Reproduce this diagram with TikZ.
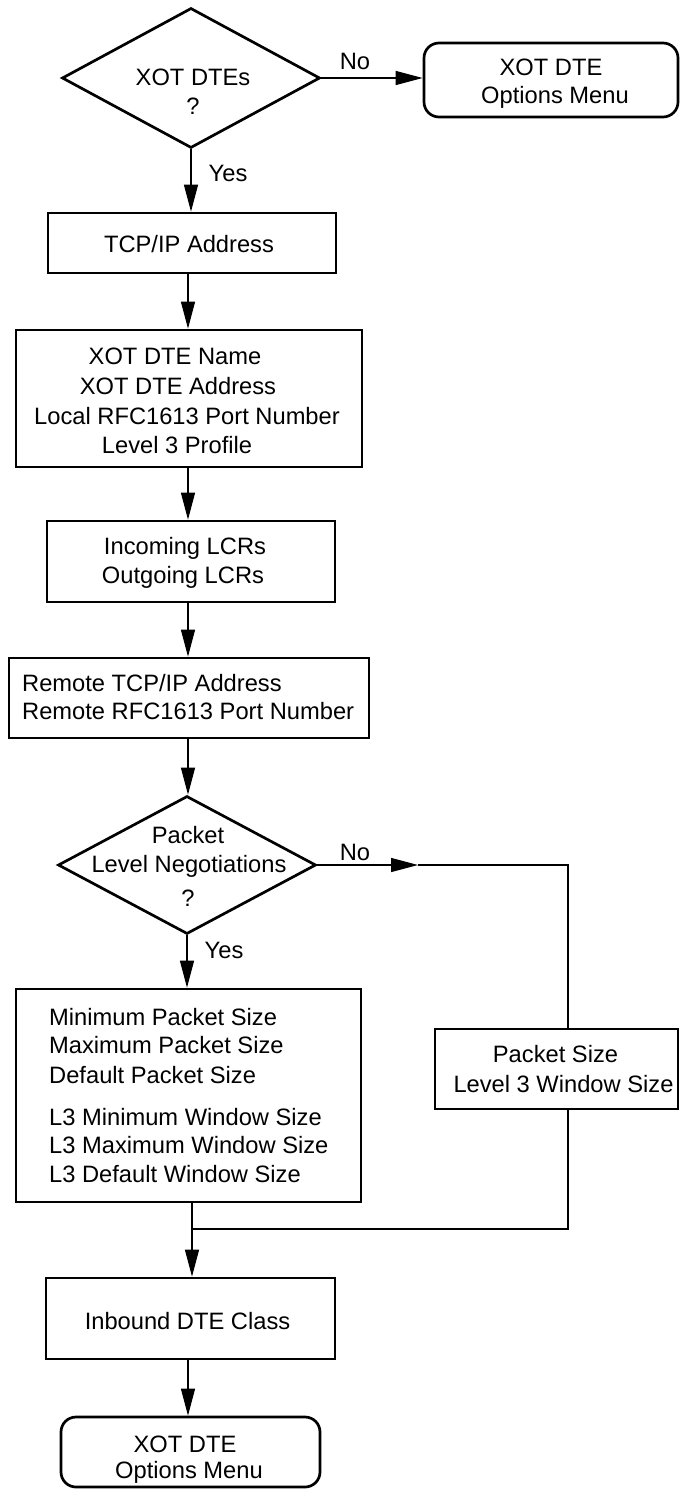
\documentclass[tikz,border=0pt]{standalone}
\usepackage{fontspec}
\setmainfont{Liberation Sans}
\usetikzlibrary{arrows.meta,shapes.geometric}
\begin{document}
\begin{tikzpicture}[x=1pt,y=-1pt,
  every node/.style={font=\fontsize{23.7}{29}\selectfont},
  box/.style={draw, line width=2.7pt, inner sep=0pt},
  rbox/.style={box, rounded corners=15pt},
  dia/.style={draw, diamond, line width=2.7pt, inner sep=0pt},
  txt/.style={anchor=base, inner sep=0pt},
  ltxt/.style={anchor=base west, inner sep=0pt},
  line/.style={line width=1.3pt},
  arr/.style={line, -{Triangle[length=27pt,width=14pt]}}
]
\useasboundingbox (0,0) rectangle (681,1490);

% shapes
\node[dia, minimum width=258pt, minimum height=140pt] (d1) at (191,78) {};
\node[rbox, minimum width=254pt, minimum height=74pt] (r1) at (551,80) {};
\node[box, minimum width=288pt, minimum height=60pt] (tcp) at (192,243) {};
\node[box, minimum width=346pt, minimum height=137pt] (name) at (189,398.5) {};
\node[box, minimum width=288pt, minimum height=81pt] (inc) at (191,561.5) {};
\node[box, minimum width=360pt, minimum height=80pt] (rem) at (189,698) {};
\node[dia, minimum width=258pt, minimum height=138pt] (d2) at (187,865) {};
\node[box, minimum width=345pt, minimum height=213pt] (big) at (188.5,1095.5) {};
\node[box, minimum width=243pt, minimum height=80pt] (ps) at (556.5,1069) {};
\node[box, minimum width=289pt, minimum height=81pt] (inb) at (190.5,1318.5) {};
\node[rbox, minimum width=259pt, minimum height=70pt] (r2) at (190.5,1452) {};

% texts
\node[txt] (t1) at (193,86) {XOT DTEs};
\node[txt] (t2) at (193,115) {?};
\node[txt] (t3) at (551,76) {XOT DTE};
\node[txt] (t4) at (555,104) {Options Menu};
\node[txt] (t5) at (189,252) {TCP/IP Address};
\node[txt] (t6) at (175,364) {XOT DTE Name};
\node[txt] (t7) at (178,394) {XOT DTE Address};
\node[txt] (t8) at (187,424) {Local RFC1613 Port Number};
\node[txt] (t9) at (177,453) {Level 3 Profile};
\node[txt] (t10) at (185,554) {Incoming LCRs};
\node[txt] (t11) at (183,583) {Outgoing LCRs};
\node[ltxt] (t12) at (22,691) {Remote TCP/IP Address};
\node[ltxt] (t13) at (22,719) {Remote RFC1613 Port Number};
\node[txt] (t14) at (188,843) {Packet};
\node[txt] (t15) at (189,872) {Level Negotiations};
\node[txt] (t16) at (188,906) {?};
\node[ltxt] (t17) at (49,1025) {Minimum Packet Size};
\node[ltxt] (t18) at (49,1053) {Maximum Packet Size};
\node[ltxt] (t19) at (49,1083) {Default Packet Size};
\node[ltxt] (t20) at (49,1125) {L3 Minimum Window Size};
\node[ltxt] (t21) at (49,1153) {L3 Maximum Window Size};
\node[ltxt] (t22) at (49,1182) {L3 Default Window Size};
\node[txt] (t23) at (555.5,1062) {Packet Size};
\node[txt] (t24) at (563.5,1092) {Level 3 Window Size};
\node[txt] (t25) at (187.5,1329) {Inbound DTE Class};
\node[txt] (t26) at (185,1452) {XOT DTE};
\node[txt] (t27) at (189,1478) {Options Menu};

% labels
\node[txt] (no1) at (355,70) {No};
\node[txt] (yes1) at (228,182) {Yes};
\node[txt] (no2) at (355,860) {No};
\node[txt] (yes2) at (224,958) {Yes};

% helper coordinates
\coordinate (ax) at (188,0);
\coordinate (n1) at (418,865);
\coordinate (n2) at (568,865);
\coordinate (m1) at (192,1229);
\coordinate (m2) at (568,1229);

% connectors
\draw[arr] (d1.east) -- (d1.east -| r1.west);
\draw[arr] (d1.south) -- (d1.south |- tcp.north);
\draw[arr] (tcp.south -| ax) -- (name.north -| ax);
\draw[arr] (name.south -| ax) -- (inc.north -| ax);
\draw[arr] (inc.south -| ax) -- (rem.north -| ax);
\draw[arr] (rem.south -| ax) -- (d2.north -| ax);
\draw[arr] (d2.south) -- (d2.south |- big.north);
\draw[arr] (d2.east) -- (n1);
\draw[line] (n1) -- (n2) -- (n2 |- ps.north);
\draw[line] (ps.south -| m2) -- (m2) -- (m1);
\draw[line] (big.south -| m1) -- (m1);
\draw[arr] (m1) -- (m1 |- inb.north);
\draw[arr] (inb.south -| ax) -- (r2.north -| ax);
\end{tikzpicture}
\end{document}
